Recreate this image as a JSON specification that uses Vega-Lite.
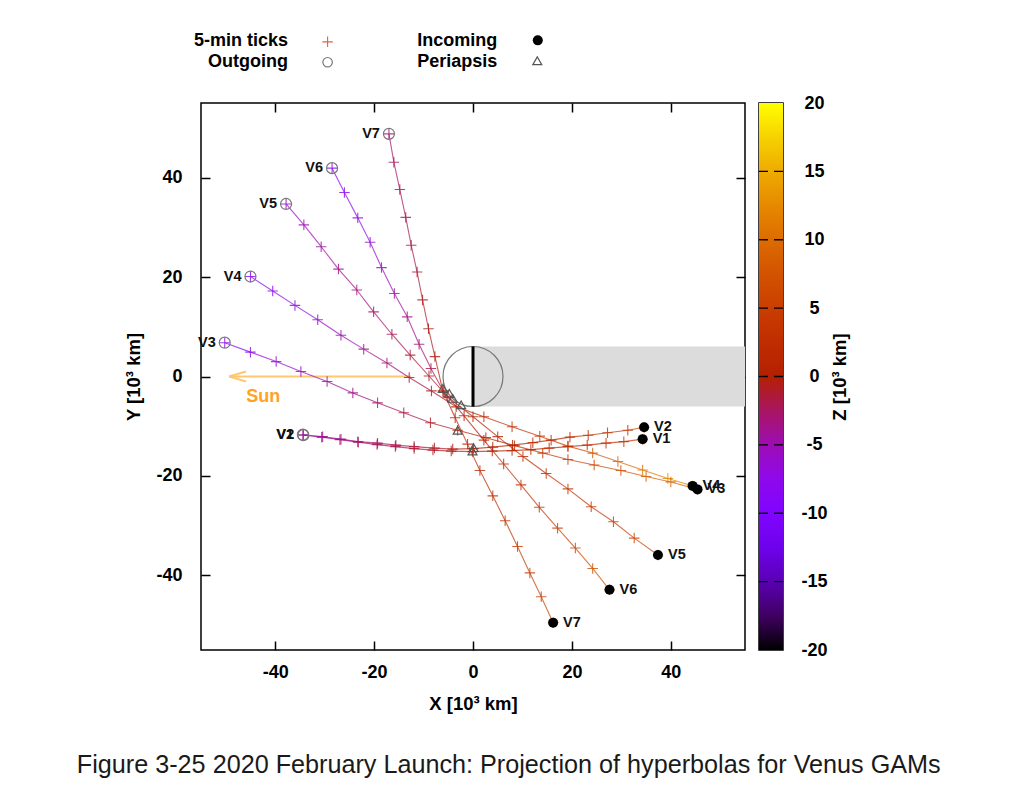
{
  "$schema": "https://vega.github.io/schema/vega-lite/v6.json",
  "padding": {"left": 76, "top": 31, "right": 0, "bottom": 0},
  "bounds": "flush",
  "spacing": 14,
  "config": {
    "font": "Liberation Sans",
    "view": {"stroke": "#000", "strokeWidth": 1.5},
    "axis": {"labelFont": "Liberation Sans", "labelFontSize": 18, "labelFontWeight": "bold", "labelColor": "#000",
             "titleFont": "Liberation Sans", "titleFontSize": 18.5, "titleFontWeight": "bold", "titleColor": "#000",
             "tickColor": "#000", "tickWidth": 1.5, "domain": false, "grid": false, "labelExpr": "'' + datum.value"}
  },
  "title": {"text": "Figure 3-25 2020 February Launch: Projection of hyperbolas for Venus GAMs", "orient": "bottom", "anchor": "middle",
            "fontSize": 25.2, "fontWeight": "normal", "font": "Liberation Sans", "color": "#1a1a1a", "offset": 40, "dx": 22},
  "datasets": {
    "traj": [
      {"v":"V7","i":0,"x":-17.0,"y":48.8,"z":-3},{"v":"V7","i":1,"x":-16.0,"y":43.1,"z":-2.67},{"v":"V7","i":2,"x":-14.8,"y":37.6,"z":-2.33},{"v":"V7","i":3,"x":-13.6,"y":32.0,"z":-2},{"v":"V7","i":4,"x":-12.5,"y":26.4,"z":-1.67},{"v":"V7","i":5,"x":-11.3,"y":21.0,"z":-1.33},{"v":"V7","i":6,"x":-10.2,"y":15.4,"z":-1},{"v":"V7","i":7,"x":-9.0,"y":9.6,"z":-0.67},{"v":"V7","i":8,"x":-7.7,"y":4.0,"z":-0.33},{"v":"V7","i":9,"x":-6.1,"y":-2.9,"z":0},{"v":"V7","i":10,"x":-3.6,"y":-8.3,"z":0.7},{"v":"V7","i":11,"x":-1.1,"y":-13.6,"z":1.3},{"v":"V7","i":12,"x":1.4,"y":-18.9,"z":2},{"v":"V7","i":13,"x":4.0,"y":-24.0,"z":2.7},{"v":"V7","i":14,"x":6.5,"y":-29.0,"z":3.3},{"v":"V7","i":15,"x":9.0,"y":-34.2,"z":4},{"v":"V7","i":16,"x":11.5,"y":-39.5,"z":4.7},{"v":"V7","i":17,"x":13.8,"y":-44.3,"z":5.3},{"v":"V7","i":18,"x":16.2,"y":-49.5,"z":6},
      {"v":"V6","i":0,"x":-28.5,"y":41.9,"z":-9},{"v":"V6","i":1,"x":-26.0,"y":37.0,"z":-8.1},{"v":"V6","i":2,"x":-23.3,"y":31.9,"z":-7.2},{"v":"V6","i":3,"x":-20.8,"y":27.0,"z":-6.3},{"v":"V6","i":4,"x":-18.5,"y":21.9,"z":-5.4},{"v":"V6","i":5,"x":-15.9,"y":16.7,"z":-4.6},{"v":"V6","i":6,"x":-13.3,"y":12.0,"z":-3.7},{"v":"V6","i":7,"x":-10.9,"y":6.5,"z":-2.8},{"v":"V6","i":8,"x":-8.5,"y":1.6,"z":-1.9},{"v":"V6","i":9,"x":-5.9,"y":-3.1,"z":-1},{"v":"V6","i":10,"x":-1.8,"y":-7.9,"z":0},{"v":"V6","i":11,"x":2.2,"y":-12.8,"z":1},{"v":"V6","i":12,"x":6.2,"y":-17.6,"z":2},{"v":"V6","i":13,"x":9.7,"y":-21.8,"z":3},{"v":"V6","i":14,"x":13.4,"y":-26.3,"z":4},{"v":"V6","i":15,"x":17.1,"y":-30.5,"z":5},{"v":"V6","i":16,"x":20.7,"y":-34.5,"z":6},{"v":"V6","i":17,"x":24.2,"y":-38.6,"z":7},{"v":"V6","i":18,"x":27.6,"y":-42.9,"z":8},
      {"v":"V5","i":0,"x":-37.8,"y":34.7,"z":-5.5},{"v":"V5","i":1,"x":-34.2,"y":30.5,"z":-4.9},{"v":"V5","i":2,"x":-30.7,"y":26.1,"z":-4.4},{"v":"V5","i":3,"x":-27.2,"y":21.6,"z":-3.8},{"v":"V5","i":4,"x":-23.5,"y":17.4,"z":-3.3},{"v":"V5","i":5,"x":-20.1,"y":13.0,"z":-2.7},{"v":"V5","i":6,"x":-16.4,"y":8.5,"z":-2.2},{"v":"V5","i":7,"x":-12.7,"y":4.3,"z":-1.6},{"v":"V5","i":8,"x":-8.9,"y":0.1,"z":-1.1},{"v":"V5","i":9,"x":-5.1,"y":-4.1,"z":-0.5},{"v":"V5","i":10,"x":0.0,"y":-8.1,"z":0.3},{"v":"V5","i":11,"x":5.0,"y":-12.1,"z":1},{"v":"V5","i":12,"x":10.1,"y":-16.1,"z":1.7},{"v":"V5","i":13,"x":14.8,"y":-19.5,"z":2.5},{"v":"V5","i":14,"x":19.2,"y":-22.6,"z":3.2},{"v":"V5","i":15,"x":23.9,"y":-26.2,"z":4},{"v":"V5","i":16,"x":28.4,"y":-29.2,"z":4.7},{"v":"V5","i":17,"x":32.6,"y":-32.5,"z":5.4},{"v":"V5","i":18,"x":37.4,"y":-35.9,"z":6.2},
      {"v":"V4","i":0,"x":-45.0,"y":20.1,"z":-9},{"v":"V4","i":1,"x":-40.5,"y":17.2,"z":-8},{"v":"V4","i":2,"x":-36.0,"y":14.3,"z":-7},{"v":"V4","i":3,"x":-31.4,"y":11.4,"z":-6},{"v":"V4","i":4,"x":-26.7,"y":8.3,"z":-5},{"v":"V4","i":5,"x":-22.1,"y":5.5,"z":-4},{"v":"V4","i":6,"x":-17.4,"y":2.7,"z":-3},{"v":"V4","i":7,"x":-12.9,"y":-0.2,"z":-2},{"v":"V4","i":8,"x":-8.4,"y":-2.9,"z":-1},{"v":"V4","i":9,"x":-3.4,"y":-6.1,"z":0},{"v":"V4","i":10,"x":2.2,"y":-8.1,"z":1.6},{"v":"V4","i":11,"x":7.9,"y":-10.1,"z":3.1},{"v":"V4","i":12,"x":13.5,"y":-12.0,"z":4.7},{"v":"V4","i":13,"x":19.2,"y":-14.0,"z":6.2},{"v":"V4","i":14,"x":24.2,"y":-15.4,"z":7.8},{"v":"V4","i":15,"x":29.3,"y":-17.1,"z":9.3},{"v":"V4","i":16,"x":34.3,"y":-18.8,"z":10.9},{"v":"V4","i":17,"x":39.4,"y":-20.5,"z":12.4},{"v":"V4","i":18,"x":44.4,"y":-22.0,"z":14},
      {"v":"V3","i":0,"x":-50.2,"y":6.8,"z":-8},{"v":"V3","i":1,"x":-45.0,"y":4.9,"z":-7.1},{"v":"V3","i":2,"x":-39.8,"y":3.0,"z":-6.2},{"v":"V3","i":3,"x":-34.8,"y":1.0,"z":-5.3},{"v":"V3","i":4,"x":-29.5,"y":-1.0,"z":-4.4},{"v":"V3","i":5,"x":-24.3,"y":-3.3,"z":-3.6},{"v":"V3","i":6,"x":-19.3,"y":-5.3,"z":-2.7},{"v":"V3","i":7,"x":-14.0,"y":-7.3,"z":-1.8},{"v":"V3","i":8,"x":-8.6,"y":-9.3,"z":-0.9},{"v":"V3","i":9,"x":-3.1,"y":-10.8,"z":0},{"v":"V3","i":10,"x":2.6,"y":-12.3,"z":1.2},{"v":"V3","i":11,"x":8.4,"y":-13.9,"z":2.4},{"v":"V3","i":12,"x":14.1,"y":-15.4,"z":3.7},{"v":"V3","i":13,"x":19.2,"y":-16.7,"z":4.9},{"v":"V3","i":14,"x":24.5,"y":-17.8,"z":6.1},{"v":"V3","i":15,"x":29.9,"y":-18.9,"z":7.3},{"v":"V3","i":16,"x":35.0,"y":-20.1,"z":8.6},{"v":"V3","i":17,"x":40.0,"y":-21.2,"z":9.8},{"v":"V3","i":18,"x":45.4,"y":-22.7,"z":11},
      {"v":"V2","i":0,"x":-34.3,"y":-11.8,"z":-4.5},{"v":"V2","i":1,"x":-30.4,"y":-12.1,"z":-4},{"v":"V2","i":2,"x":-26.7,"y":-12.6,"z":-3.5},{"v":"V2","i":3,"x":-23.3,"y":-13.1,"z":-3},{"v":"V2","i":4,"x":-19.3,"y":-13.4,"z":-2.5},{"v":"V2","i":5,"x":-15.6,"y":-13.8,"z":-2},{"v":"V2","i":6,"x":-11.9,"y":-14.1,"z":-1.5},{"v":"V2","i":7,"x":-7.8,"y":-14.4,"z":-1},{"v":"V2","i":8,"x":-4.1,"y":-14.6,"z":-0.5},{"v":"V2","i":9,"x":0.1,"y":-14.5,"z":0},{"v":"V2","i":10,"x":4.0,"y":-14.2,"z":0.5},{"v":"V2","i":11,"x":8.0,"y":-13.8,"z":1},{"v":"V2","i":12,"x":12.1,"y":-13.3,"z":1.5},{"v":"V2","i":13,"x":15.8,"y":-12.8,"z":2},{"v":"V2","i":14,"x":19.6,"y":-12.2,"z":2.5},{"v":"V2","i":15,"x":23.3,"y":-11.8,"z":3},{"v":"V2","i":16,"x":27.2,"y":-11.3,"z":3.5},{"v":"V2","i":17,"x":31.3,"y":-10.8,"z":4},{"v":"V2","i":18,"x":34.6,"y":-10.2,"z":4.5},
      {"v":"V1","i":0,"x":-34.4,"y":-11.7,"z":-4},{"v":"V1","i":1,"x":-30.6,"y":-12.2,"z":-3.6},{"v":"V1","i":2,"x":-26.9,"y":-12.7,"z":-3.1},{"v":"V1","i":3,"x":-23.2,"y":-13.2,"z":-2.7},{"v":"V1","i":4,"x":-19.4,"y":-13.7,"z":-2.2},{"v":"V1","i":5,"x":-15.7,"y":-14.1,"z":-1.8},{"v":"V1","i":6,"x":-11.9,"y":-14.5,"z":-1.3},{"v":"V1","i":7,"x":-8.1,"y":-14.8,"z":-0.9},{"v":"V1","i":8,"x":-4.4,"y":-15.0,"z":-0.4},{"v":"V1","i":9,"x":-0.1,"y":-15.1,"z":0},{"v":"V1","i":10,"x":3.9,"y":-15.0,"z":0.5},{"v":"V1","i":11,"x":7.9,"y":-14.9,"z":0.9},{"v":"V1","i":12,"x":11.7,"y":-14.7,"z":1.4},{"v":"V1","i":13,"x":15.4,"y":-14.4,"z":1.8},{"v":"V1","i":14,"x":19.2,"y":-14.1,"z":2.3},{"v":"V1","i":15,"x":23.1,"y":-13.8,"z":2.7},{"v":"V1","i":16,"x":26.9,"y":-13.4,"z":3.2},{"v":"V1","i":17,"x":30.5,"y":-13.1,"z":3.6},{"v":"V1","i":18,"x":34.3,"y":-12.6,"z":4}
    ],
    "peri": [
      {"v":"V7","x":-6.1,"y":-2.4},{"v":"V6","x":-4.8,"y":-3.4},{"v":"V5","x":-4.1,"y":-4.4},{"v":"V4","x":-2.4,"y":-5.7},
      {"v":"V3","x":-3.1,"y":-10.8},{"v":"V2","x":0.1,"y":-14.3},{"v":"V1","x":-0.1,"y":-15.0}
    ],
    "sun": [
      {"x":-12.5,"y":0,"x2":-49.3,"y2":0},{"x":-49.3,"y":0,"x2":-45.9,"y2":1.0},{"x":-49.3,"y":0,"x2":-45.9,"y2":-1.0}
    ],
    "keytext": [
      {"label":"5-min ticks","x":-37.4,"y":67.5},{"label":"Outgoing","x":-37.4,"y":63.3},
      {"label":"Incoming","x":4.9,"y":67.5},{"label":"Periapsis","x":4.9,"y":63.3}
    ]
  },
  "hconcat": [
    {
      "width": 544,
      "height": 547,
      "layer": [
        {
          "layer": [
            {
              "data": {"values": [{"x":0,"x2":55,"y":-6.05,"y2":6.05}]},
              "mark": {"type": "rect", "color": "#dcdcdc"},
              "encoding": {
                "x": {"field": "x", "type": "quantitative", "scale": {"domain": [-55, 55], "nice": false, "zero": false},
                      "axis": {"orient": "bottom", "title": "X [10³ km]", "values": [-40,-20,0,20,40], "tickSize": -9, "labelPadding": 22, "titlePadding": 13}},
                "x2": {"field": "x2"},
                "y": {"field": "y", "type": "quantitative", "scale": {"domain": [-55, 55], "nice": false, "zero": false},
                      "axis": {"orient": "left", "title": "Y [10³ km]", "values": [-40,-20,0,20,40], "tickSize": -9, "labelPadding": 28, "titlePadding": 12}},
                "y2": {"field": "y2"}
              }
            },
            {
              "data": {"values": [{"x":0,"y":0}]},
              "mark": {"type": "point", "shape": "circle", "size": 3600, "filled": false, "stroke": "#777", "strokeWidth": 1.2, "opacity": 1},
              "encoding": {
                "x": {"field": "x", "type": "quantitative", "scale": {"domain": [-55, 55]}},
                "y": {"field": "y", "type": "quantitative", "scale": {"domain": [-55, 55]}}
              }
            },
            {
              "data": {"values": [{"x":0,"y":-6.05,"y2":6.05}]},
              "mark": {"type": "rule", "color": "#000", "strokeWidth": 3},
              "encoding": {
                "x": {"field": "x", "type": "quantitative", "scale": {"domain": [-55, 55]}},
                "y": {"field": "y", "type": "quantitative", "scale": {"domain": [-55, 55]}},
                "y2": {"field": "y2"}
              }
            },
            {
              "data": {"name": "sun"},
              "mark": {"type": "rule", "color": "#ffc870", "strokeWidth": 2},
              "encoding": {
                "x": {"field": "x", "type": "quantitative", "scale": {"domain": [-55, 55]}},
                "y": {"field": "y", "type": "quantitative", "scale": {"domain": [-55, 55]}},
                "x2": {"field": "x2"},
                "y2": {"field": "y2"}
              }
            },
            {
              "data": {"values": [{"x":-42.4,"y":-4.1,"label":"Sun"}]},
              "mark": {"type": "text", "color": "#ffa21f", "fontSize": 18, "fontWeight": "bold", "align": "center", "baseline": "middle"},
              "encoding": {
                "x": {"field": "x", "type": "quantitative", "scale": {"domain": [-55, 55]}},
                "y": {"field": "y", "type": "quantitative", "scale": {"domain": [-55, 55]}},
                "text": {"field": "label"}
              }
            },
            {
              "data": {"name": "traj"},
              "transform": [
                {"window": [{"op": "lead", "field": "x", "as": "x2"}, {"op": "lead", "field": "y", "as": "y2"}], "groupby": ["v"], "sort": [{"field": "i"}]},
                {"filter": "datum.x2 != null"}
              ],
              "mark": {"type": "rule", "strokeWidth": 1.1, "opacity": 0.72},
              "encoding": {
                "x": {"field": "x", "type": "quantitative", "scale": {"domain": [-55, 55]}},
                "y": {"field": "y", "type": "quantitative", "scale": {"domain": [-55, 55]}},
                "x2": {"field": "x2"},
                "y2": {"field": "y2"},
                "color": {"field": "z", "type": "quantitative", "legend": null,
                          "scale": {"domain": [-20,-17.5,-15,-12.5,-10,-7.5,-5,-2.5,0,2.5,5,7.5,10,12.5,15,17.5,20],
                                    "range": ["#000000","#400062","#5a00b4","#6e02ec","#8004ff","#8f08ec","#9c0db4","#a91562","#b42000","#bf2d00","#ca3e00","#d35300","#dd6c00","#e68900","#eeab00","#f7d200","#ffff00"],
                                    "interpolate": "rgb"}}
              }
            },
            {
              "data": {"name": "traj"},
              "mark": {"type": "point", "shape": "M-1,0L1,0M0,-1L0,1", "size": 110, "filled": false, "strokeWidth": 1.1, "opacity": 0.8},
              "encoding": {
                "x": {"field": "x", "type": "quantitative", "scale": {"domain": [-55, 55]}},
                "y": {"field": "y", "type": "quantitative", "scale": {"domain": [-55, 55]}},
                "color": {"field": "z", "type": "quantitative", "legend": null}
              }
            },
            {
              "data": {"name": "traj"},
              "transform": [{"filter": "datum.i == 0"}],
              "mark": {"type": "point", "shape": "circle", "size": 121, "filled": false, "stroke": "#777", "strokeWidth": 1.2, "opacity": 1},
              "encoding": {
                "x": {"field": "x", "type": "quantitative", "scale": {"domain": [-55, 55]}},
                "y": {"field": "y", "type": "quantitative", "scale": {"domain": [-55, 55]}}
              }
            },
            {
              "data": {"name": "traj"},
              "transform": [{"filter": "datum.i == 18"}],
              "mark": {"type": "point", "shape": "circle", "size": 100, "filled": true, "color": "#000", "opacity": 1},
              "encoding": {
                "x": {"field": "x", "type": "quantitative", "scale": {"domain": [-55, 55]}},
                "y": {"field": "y", "type": "quantitative", "scale": {"domain": [-55, 55]}}
              }
            },
            {
              "data": {"name": "peri"},
              "mark": {"type": "point", "shape": "triangle-up", "size": 80, "filled": false, "stroke": "#555", "strokeWidth": 1.2, "opacity": 1},
              "encoding": {
                "x": {"field": "x", "type": "quantitative", "scale": {"domain": [-55, 55]}},
                "y": {"field": "y", "type": "quantitative", "scale": {"domain": [-55, 55]}}
              }
            },
            {
              "data": {"name": "traj"},
              "transform": [{"filter": "datum.i == 0"}],
              "mark": {"type": "text", "align": "right", "baseline": "middle", "dx": -9, "fontSize": 14.5, "fontWeight": "bold", "color": "#111"},
              "encoding": {
                "x": {"field": "x", "type": "quantitative", "scale": {"domain": [-55, 55]}},
                "y": {"field": "y", "type": "quantitative", "scale": {"domain": [-55, 55]}},
                "text": {"field": "v"}
              }
            },
            {
              "data": {"name": "traj"},
              "transform": [{"filter": "datum.i == 18"}],
              "mark": {"type": "text", "align": "left", "baseline": "middle", "dx": 10, "fontSize": 14.5, "fontWeight": "bold", "color": "#111"},
              "encoding": {
                "x": {"field": "x", "type": "quantitative", "scale": {"domain": [-55, 55]}},
                "y": {"field": "y", "type": "quantitative", "scale": {"domain": [-55, 55]}},
                "text": {"field": "v"}
              }
            },
            {
              "data": {"name": "keytext"},
              "mark": {"type": "text", "align": "right", "baseline": "middle", "fontSize": 18, "fontWeight": "bold", "color": "#000"},
              "encoding": {
                "x": {"field": "x", "type": "quantitative", "scale": {"domain": [-55, 55]}},
                "y": {"field": "y", "type": "quantitative", "scale": {"domain": [-55, 55]}},
                "text": {"field": "label"}
              }
            },
            {
              "data": {"values": [{"x":-29.4,"y":67.3}]},
              "mark": {"type": "point", "shape": "M-1,0L1,0M0,-1L0,1", "size": 110, "filled": false, "stroke": "#e8613a", "strokeWidth": 1.1, "opacity": 1},
              "encoding": {
                "x": {"field": "x", "type": "quantitative", "scale": {"domain": [-55, 55]}},
                "y": {"field": "y", "type": "quantitative", "scale": {"domain": [-55, 55]}}
              }
            },
            {
              "data": {"values": [{"x":-29.4,"y":63.2}]},
              "mark": {"type": "point", "shape": "circle", "size": 90, "filled": false, "stroke": "#777", "strokeWidth": 1.2, "opacity": 1},
              "encoding": {
                "x": {"field": "x", "type": "quantitative", "scale": {"domain": [-55, 55]}},
                "y": {"field": "y", "type": "quantitative", "scale": {"domain": [-55, 55]}}
              }
            },
            {
              "data": {"values": [{"x":13.1,"y":67.6}]},
              "mark": {"type": "point", "shape": "circle", "size": 100, "filled": true, "color": "#000", "opacity": 1},
              "encoding": {
                "x": {"field": "x", "type": "quantitative", "scale": {"domain": [-55, 55]}},
                "y": {"field": "y", "type": "quantitative", "scale": {"domain": [-55, 55]}}
              }
            },
            {
              "data": {"values": [{"x":13.0,"y":63.5}]},
              "mark": {"type": "point", "shape": "triangle-up", "size": 80, "filled": false, "stroke": "#555", "strokeWidth": 1.2, "opacity": 1},
              "encoding": {
                "x": {"field": "x", "type": "quantitative", "scale": {"domain": [-55, 55]}},
                "y": {"field": "y", "type": "quantitative", "scale": {"domain": [-55, 55]}}
              }
            }
          ]
        },
        {
          "data": {"name": "peri"},
          "mark": {"type": "point", "opacity": 0},
          "encoding": {
            "x": {"field": "x", "type": "quantitative", "scale": {"domain": [-55, 55]},
                  "axis": {"orient": "top", "labels": false, "title": null, "values": [-40,-20,0,20,40], "tickSize": -9}},
            "y": {"field": "y", "type": "quantitative", "scale": {"domain": [-55, 55]},
                  "axis": {"orient": "right", "labels": false, "title": null, "values": [-40,-20,0,20,40], "tickSize": -9}}
          }
        }
      ],
      "resolve": {"axis": {"x": "independent", "y": "independent"}}
    },
    {
      "width": 24,
      "height": 547,
      "layer": [
        {
          "data": {"values": [{"lo": -20, "hi": 20}]},
          "mark": {"type": "rect", "fill": {"gradient": "linear", "x1": 0, "y1": 1, "x2": 0, "y2": 0,
                   "stops": [
                     {"offset": 0, "color": "#000000"},{"offset": 0.0625, "color": "#400062"},{"offset": 0.125, "color": "#5a00b4"},
                     {"offset": 0.1875, "color": "#6e02ec"},{"offset": 0.25, "color": "#8004ff"},{"offset": 0.3125, "color": "#8f08ec"},
                     {"offset": 0.375, "color": "#9c0db4"},{"offset": 0.4375, "color": "#a91562"},{"offset": 0.5, "color": "#b42000"},
                     {"offset": 0.5625, "color": "#bf2d00"},{"offset": 0.625, "color": "#ca3e00"},{"offset": 0.6875, "color": "#d35300"},
                     {"offset": 0.75, "color": "#dd6c00"},{"offset": 0.8125, "color": "#e68900"},{"offset": 0.875, "color": "#eeab00"},
                     {"offset": 0.9375, "color": "#f7d200"},{"offset": 1, "color": "#ffff00"}]}},
          "encoding": {
            "y": {"field": "lo", "type": "quantitative", "scale": {"domain": [-20, 20], "nice": false, "zero": false},
                  "axis": {"orient": "right", "title": "Z [10³ km]", "values": [-20,-15,-10,-5,0,5,10,15,20], "ticks": false,
                           "labelAlign": "center", "labelPadding": 31, "titleAngle": 270, "titleBaseline": "top", "titlePadding": 3}},
            "y2": {"field": "hi"}
          }
        },
        {
          "data": {"values": [{"z":-15},{"z":-10},{"z":-5},{"z":0},{"z":5},{"z":10},{"z":15}]},
          "mark": {"type": "rule", "color": "#000", "strokeWidth": 1.3, "strokeDash": [9, 6]},
          "encoding": {
            "y": {"field": "z", "type": "quantitative", "scale": {"domain": [-20, 20]}}
          }
        }
      ]
    }
  ]
}
